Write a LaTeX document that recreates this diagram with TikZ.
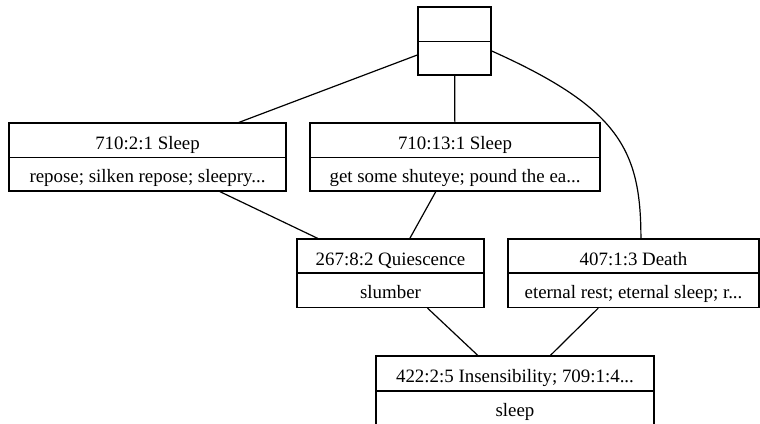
\documentclass[tikz,border=0pt]{standalone}
\usepackage{fontspec}
\setmainfont{Liberation Serif}
\begin{document}
\begin{tikzpicture}[x=1pt,y=-1pt,
  rec/.style={draw, line width=1.2pt, rectangle, inner sep=0pt},
  divline/.style={line width=1.2pt},
  lab/.style={anchor=base, inner sep=0pt, font=\fontsize{18.9}{20}\selectfont},
  edge/.style={line width=1.2pt}]
\useasboundingbox (0,0) rectangle (760,423);
\fill[white] (0,0) rectangle (760,423);

% top (empty) record
\node[rec, minimum width=73pt, minimum height=68pt] (t) at (454.5,41) {};
\draw[divline] (418,41.5) -- (491,41.5);

% 710:2:1 Sleep
\node[rec, minimum width=277pt, minimum height=68pt] (a) at (147.5,157) {};
\draw[divline] (9,157.5) -- (286,157.5);
\node[lab] (ah) at (147.5,149.5) {710:2:1 Sleep};
\node[lab] (ab) at (147.5,182.5) {repose; silken repose; sleepry...};

% 710:13:1 Sleep
\node[rec, minimum width=290pt, minimum height=68pt] (b) at (455,157) {};
\draw[divline] (310,157.5) -- (600,157.5);
\node[lab] (bh) at (455,149.5) {710:13:1 Sleep};
\node[lab] (bb) at (455,182.5) {get some shuteye; pound the ea...};

% 267:8:2 Quiescence
\node[rec, minimum width=187pt, minimum height=68.5pt] (q) at (390.5,273.25) {};
\draw[divline] (297,273) -- (484,273);
\node[lab] (qh) at (390.5,265.5) {267:8:2 Quiescence};
\node[lab] (qb) at (390.5,298) {slumber};

% 407:1:3 Death
\node[rec, minimum width=251pt, minimum height=68.5pt] (d) at (633.5,273.25) {};
\draw[divline] (508,273) -- (759,273);
\node[lab] (dh) at (633.5,265.5) {407:1:3 Death};
\node[lab] (db) at (633.5,298) {eternal rest; eternal sleep; r...};

% 422:2:5 Insensibility
\node[rec, minimum width=278pt, minimum height=69pt] (e) at (515,390.5) {};
\draw[divline] (376,391) -- (654,391);
\node[lab] (eh) at (515,382.5) {422:2:5 Insensibility; 709:1:4...};
\node[lab] (eb) at (515,416) {sleep};

% connectors
\draw[edge] (t) -- (a);
\draw[edge] (t) -- (b);
\draw[edge] (t.-15) .. controls (619,108) and (641,150) .. (d.78);
\draw[edge] (a) -- (q);
\draw[edge] (b) -- (q);
\draw[edge] (q) -- (e);
\draw[edge] (d) -- (e);
\end{tikzpicture}
\end{document}
